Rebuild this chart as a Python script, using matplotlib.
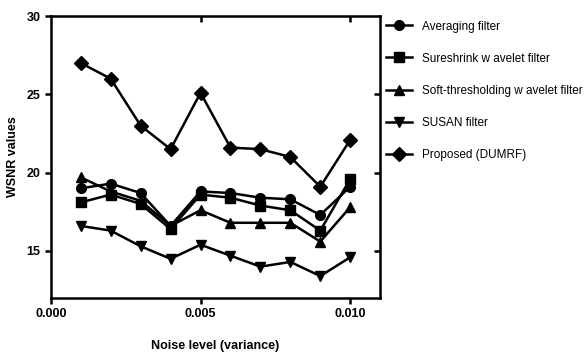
import numpy as np
import matplotlib
matplotlib.use("Agg")
import matplotlib.pyplot as plt

plt.rcParams['font.family'] = ['Liberation Sans', 'DejaVu Sans']

noise = [0.001, 0.002, 0.003, 0.004, 0.005, 0.006, 0.007, 0.008, 0.009, 0.010]
averaging = [19.0, 19.3, 18.7, 16.6, 18.8, 18.7, 18.4, 18.3, 17.3, 19.1]
sureshrink = [18.1, 18.6, 18.0, 16.4, 18.6, 18.4, 17.9, 17.6, 16.3, 19.6]
soft = [19.7, 18.8, 18.2, 16.6, 17.6, 16.8, 16.8, 16.8, 15.6, 17.8]
susan = [16.6, 16.3, 15.3, 14.5, 15.4, 14.7, 14.0, 14.3, 13.4, 14.6]
proposed = [27.0, 26.0, 23.0, 21.5, 25.1, 21.6, 21.5, 21.0, 19.1, 22.1]

labels = ["Averaging filter", "Sureshrink w avelet filter",
          "Soft-thresholding w avelet filter", "SUSAN filter", "Proposed (DUMRF)"]
series = [averaging, sureshrink, soft, susan, proposed]
markers = ['o', 's', '^', 'v', 'D']
sizes = [7, 7, 7.5, 7.5, 7]

fig = plt.figure(figsize=(5.84, 3.56), dpi=100)
ax = fig.add_axes([0.087, 0.163, 0.564, 0.792])

for y, m, ms, lab in zip(series, markers, sizes, labels):
    ax.plot(noise, y, color='black', lw=1.8, marker=m, ms=ms, label=lab)

ax.set_xlim(0, 0.011)
ax.set_ylim(12, 30)
ax.set_xticks([0.000, 0.005, 0.010])
ax.set_xticklabels(["0.000", "0.005", "0.010"])
ax.set_yticks([15, 20, 25, 30])
for s in ax.spines.values():
    s.set_linewidth(1.8)
ax.tick_params(direction='out', width=1.8, length=4, labelsize=9)
for t in ax.get_xticklabels() + ax.get_yticklabels():
    t.set_fontweight('bold')

top = ax.secondary_xaxis('top')
top.set_xticks([0.005, 0.010])
top.tick_params(direction='in', width=1.8, length=4, labeltop=False)
right = ax.secondary_yaxis('right')
right.set_yticks([15, 20, 25])
right.tick_params(direction='in', width=1.8, length=4, labelright=False)

ax.set_xlabel("Noise level (variance)", fontsize=9, fontweight='bold', labelpad=14)
ax.set_ylabel("WSNR values", fontsize=9, fontweight='bold', labelpad=5)

ax.legend(loc='upper left', bbox_to_anchor=(1.0, 1.005), frameon=False,
          fontsize=8.5, handlelength=2.2, labelspacing=1.7, handletextpad=0.8,
          borderaxespad=0.1)

fig.savefig("out.png", dpi=100)
